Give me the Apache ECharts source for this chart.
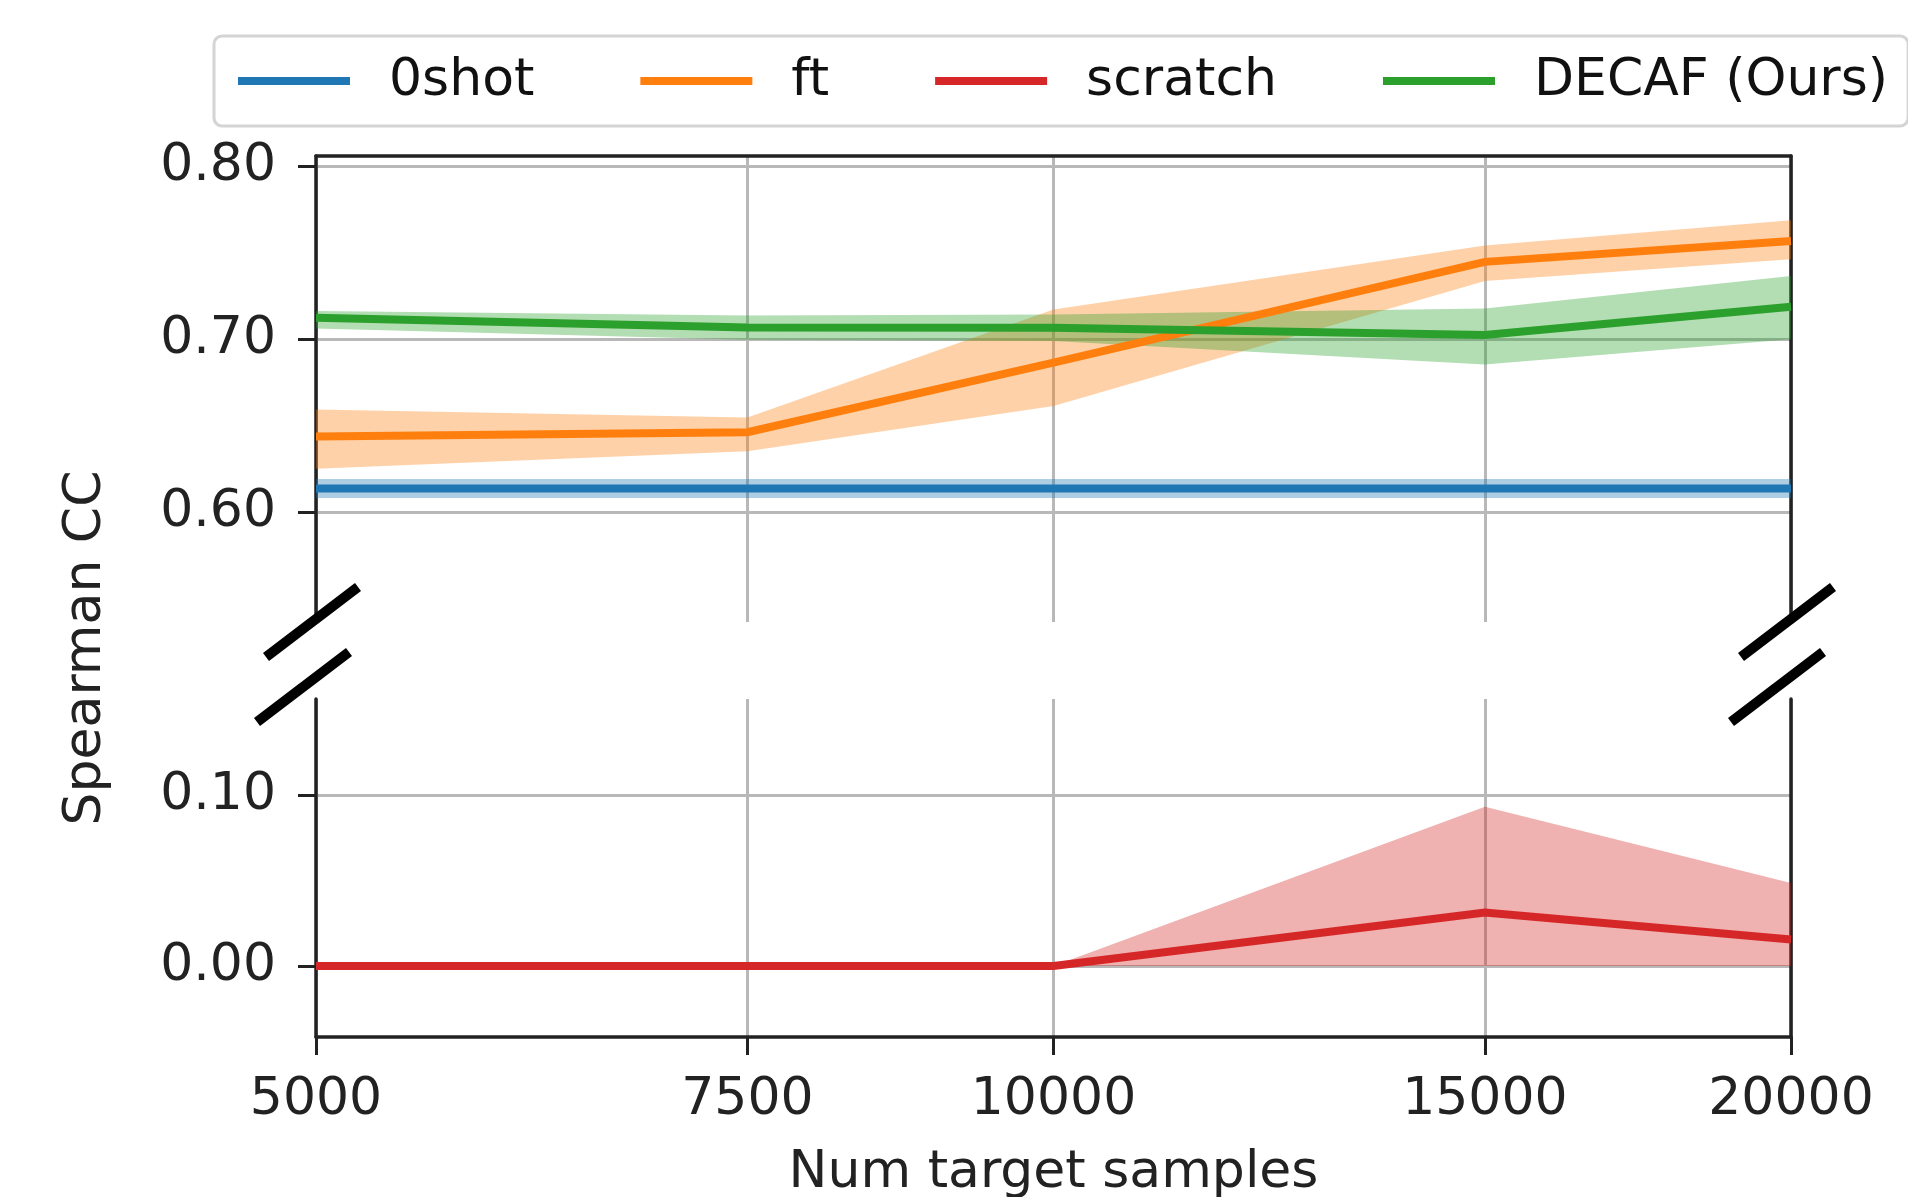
<!DOCTYPE html>
<html><head><meta charset="utf-8">
<script src="https://cdn.jsdelivr.net/npm/echarts@6/dist/echarts.min.js"></script>
<style>html,body{margin:0;padding:0;background:#fff}#c{width:1908px;height:1197px}</style>
</head><body><div id="c"></div>
<script>
// ---- data ----
const samples = [5000, 7500, 10000, 15000, 20000];
const xTicks = [5000, 7500, 10000, 15000, 20000];
const upperYTicks = [0.6, 0.7, 0.8];
const lowerYTicks = [0.0, 0.1];

const zeroshotMean = [0.614, 0.614, 0.614, 0.614, 0.614];
const zeroshotLow  = [0.6085, 0.6085, 0.6085, 0.6085, 0.6085];
const zeroshotHigh = [0.6195, 0.6195, 0.6195, 0.6195, 0.6195];

const ftMean = [0.644, 0.6465, 0.6867, 0.745, 0.757];
const ftLow  = [0.6254, 0.6355, 0.6617, 0.734, 0.7465];
const ftHigh = [0.6596, 0.655, 0.7175, 0.7545, 0.769];

const scratchMean = [0, 0, 0, 0.0314, 0.0156];
const scratchLow  = [0, 0, 0, 0, 0];
const scratchHigh = [0, 0, 0, 0.0935, 0.0487];

const decafMean = [0.7127, 0.707, 0.7069, 0.7027, 0.719];
const decafLow  = [0.7065, 0.700, 0.6992, 0.6857, 0.7002];
const decafHigh = [0.7166, 0.714, 0.7146, 0.718, 0.7368];

const legendNames = ['0shot', 'ft', 'scratch', 'DECAF (Ours)'];

// ---- styles / layout ----
const C = { blue: '#1f77b4', orange: '#ff7f0e', red: '#d62728', green: '#2ca02c' };
const FONT = '"DejaVu Sans", "Noto Sans", sans-serif';
const TXT = '#222';
const SPINE = '#222';
const GRIDC = '#b8b8b8';
const L = 316, R = 1791, W = 1908;
const upTop = 156, upBottom = 622, loTop = 699, loBottom = 1037;

function rgba(hex, a) {
  const n = parseInt(hex.slice(1), 16);
  return 'rgba(' + (n >> 16 & 255) + ',' + (n >> 8 & 255) + ',' + (n & 255) + ',' + a + ')';
}

function bandAndLine(name, mean, low, high, color, xi, yi) {
  return [
    {
      name: name + ' band', type: 'custom', xAxisIndex: xi, yAxisIndex: yi,
      silent: true, z: 1, clip: true,
      encode: { x: 0, y: [1, 2] },
      data: samples.map((x, i) => [x, low[i], high[i]]),
      renderItem: function (params, api) {
        if (params.dataIndex !== 0) return null;
        const top = [], bot = [];
        for (let i = 0; i < samples.length; i++) {
          top.push(api.coord([samples[i], high[i]]));
          bot.push(api.coord([samples[i], low[i]]));
        }
        return {
          type: 'polygon',
          shape: { points: top.concat(bot.reverse()) },
          style: { fill: rgba(color, 0.36), stroke: null }
        };
      }
    },
    {
      name: name, type: 'line', xAxisIndex: xi, yAxisIndex: yi,
      symbol: 'none', z: 3, color: color,
      lineStyle: { width: 8, color: color, cap: 'butt', join: 'miter' },
      data: samples.map((x, i) => [x, mean[i]])
    }
  ];
}

const series = [].concat(
  bandAndLine('0shot', zeroshotMean, zeroshotLow, zeroshotHigh, C.blue, 0, 0),
  bandAndLine('ft', ftMean, ftLow, ftHigh, C.orange, 0, 0),
  bandAndLine('scratch', scratchMean, scratchLow, scratchHigh, C.red, 1, 2),
  bandAndLine('DECAF (Ours)', decafMean, decafLow, decafHigh, C.green, 0, 0)
);

const labelStyle = { fontFamily: FONT, fontSize: 52, color: TXT };

function xAxisCfg(gi, bottom) {
  return {
    gridIndex: gi, type: 'log', logBase: 10, min: 5000, max: 20000,
    position: bottom ? 'bottom' : 'top',
    axisLine: { show: true, onZero: false, lineStyle: { color: SPINE, width: 3.5 } },
    axisTick: { show: bottom, inside: false, length: 18, customValues: xTicks,
      lineStyle: { color: SPINE, width: 3 } },
    axisLabel: Object.assign({ show: bottom, customValues: xTicks, margin: 37,
      formatter: v => String(Math.round(v)) }, labelStyle),
    splitLine: { show: true, lineStyle: { color: GRIDC, width: 3 } },
    name: bottom ? 'Num target samples' : '',
    nameLocation: 'middle', nameGap: 110,
    nameTextStyle: { fontFamily: FONT, fontSize: 52, color: TXT }
  };
}

function yAxisCfg(gi, min, max, ticks) {
  return {
    gridIndex: gi, type: 'value', min: min, max: max, position: 'left',
    axisLine: { show: true, onZero: false, lineStyle: { color: SPINE, width: 3.5 } },
    axisTick: { show: true, length: 18, customValues: ticks, lineStyle: { color: SPINE, width: 3 } },
    axisLabel: Object.assign({ customValues: ticks, margin: 40, formatter: v => v.toFixed(2) }, labelStyle),
    splitLine: { show: true, lineStyle: { color: GRIDC, width: 3 } }
  };
}
function yRightCfg(gi, min, max) {
  return {
    gridIndex: gi, type: 'value', min: min, max: max, position: 'right',
    axisLine: { show: true, onZero: false, lineStyle: { color: SPINE, width: 3.5 } },
    axisTick: { show: false }, axisLabel: { show: false }, splitLine: { show: false }
  };
}

// break marks (decoration)
function mark(cx, cy) {
  return { type: 'line', z: 100, silent: true,
    shape: { x1: cx - 46, y1: cy + 35, x2: cx + 46, y2: cy - 35 },
    style: { stroke: '#000', lineWidth: 10, lineCap: 'butt' } };
}

const option = {
  animation: false,
  backgroundColor: '#fff',
  grid: [
    { left: L, right: W - R, top: upTop, height: upBottom - upTop, outerBoundsMode: 'none', containLabel: false },
    { left: L, right: W - R, top: loTop, height: loBottom - loTop, outerBoundsMode: 'none', containLabel: false }
  ],
  xAxis: [xAxisCfg(0, false), xAxisCfg(1, true)],
  yAxis: [
    yAxisCfg(0, 0.5368, 0.8062, upperYTicks),
    yRightCfg(0, 0.5368, 0.8062),
    yAxisCfg(1, -0.0417, 0.1568, lowerYTicks),
    yRightCfg(1, -0.0417, 0.1568)
  ],
  legend: {
    data: legendNames,
    left: 214, top: 36, width: 1800, orient: 'horizontal',
    itemWidth: 112, itemHeight: 22, itemGap: 102,
    itemStyle: { opacity: 0 },
    lineStyle: { width: 8 },
    padding: [19, 20, 19, 20],
    borderColor: '#d4d4d4', borderWidth: 3, borderRadius: 8, backgroundColor: '#fff',
    textStyle: { fontFamily: FONT, fontSize: 52, color: '#111', padding: [0, 0, 0, 34] }
  },
  graphic: [
    { type: 'text', x: 86, y: 648, rotation: Math.PI / 2, z: 100,
      style: { text: 'Spearman CC', fontFamily: FONT, fontSize: 52, fill: TXT,
        align: 'center', verticalAlign: 'middle' } },
    mark(L - 4, upBottom), mark(L - 13, 687),
    mark(R - 4, upBottom), mark(R - 14, 687)
  ],
  series: series
};

const chart = echarts.init(document.getElementById('c'), null, { renderer: 'canvas' });
chart.setOption(option);
</script>
</body></html>
